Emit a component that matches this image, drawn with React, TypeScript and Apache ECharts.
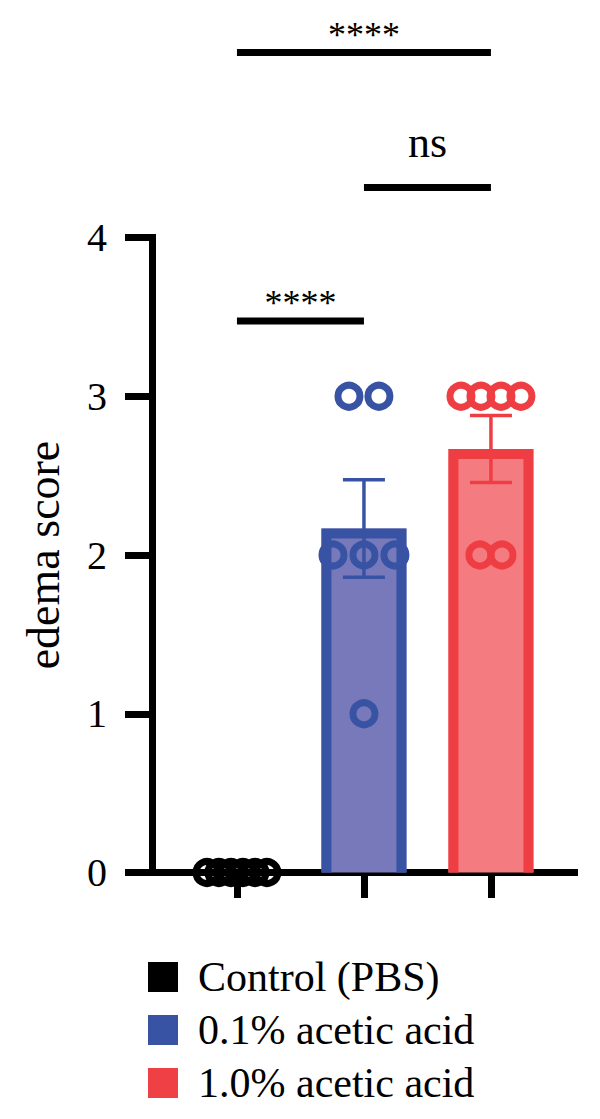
import React, { useEffect, useRef } from "react";
import * as echarts from "echarts";

const categories = ["Control (PBS)", "0.1% acetic acid", "1.0% acetic acid"];
const borderColors = ["#000000", "#3953A4", "#EE3E44"];
const fillColors = ["#000000", "#7879BA", "#F47C80"];
const legendColors = ["#000000", "#3953A4", "#EF4046"];

const means = [0, 2.167, 2.667];
const sems = [0, 0.307, 0.211];

const controlScores = [0, 0, 0, 0, 0, 0];
const controlJitter = [-0.236, -0.142, -0.047, 0.047, 0.142, 0.236];
const lowScores = [3, 3, 2, 2, 2, 1];
const lowJitter = [-0.118, 0.118, -0.244, 0, 0.244, 0];
const highScores = [3, 3, 3, 3, 2, 2];
const highJitter = [-0.236, -0.079, 0.079, 0.236, -0.087, 0.087];

const yTicks = [0, 1, 2, 3, 4];

const sigFrom = [0, 1, 0];
const sigTo = [1, 2, 2];
const sigLevel = [3.474, 4.315, 5.165];
const sigLabel = ["****", "ns", "****"];

const FONT = "'Liberation Serif', 'Times New Roman', serif";

export default function App() {
  const ref = useRef<HTMLDivElement>(null);

  useEffect(() => {
    document.body.style.margin = "0";
    const chart = echarts.init(ref.current!, null, { renderer: "svg" });

    const scoreSets = [controlScores, lowScores, highScores];
    const jitterSets = [controlJitter, lowJitter, highJitter];

    const barSeries = categories.map((name, i) => ({
      type: "custom",
      name,
      z: 2,
      clip: false,
      itemStyle: { color: legendColors[i] },
      data: [[i, means[i], sems[i]]],
      renderItem: (params: any, api: any) => {
        const x = api.value(0);
        const m = api.value(1);
        const s = api.value(2);
        const top = api.coord([x, m]);
        const base = api.coord([x, 0]);
        const hi = api.coord([x, m + s]);
        const lo = api.coord([x, m - s]);
        const cx = top[0];
        const half = 42.5;
        const bw = 10;
        const children: any[] = [];
        if (base[1] - top[1] > 0.5) {
          children.push({
            type: "rect",
            shape: { x: cx - half, y: top[1], width: half * 2, height: base[1] - top[1] },
            style: { fill: fillColors[i] },
          });
          children.push({
            type: "polyline",
            shape: {
              points: [
                [cx - half + bw / 2, base[1]],
                [cx - half + bw / 2, top[1] + bw / 2],
                [cx + half - bw / 2, top[1] + bw / 2],
                [cx + half - bw / 2, base[1]],
              ],
            },
            style: { stroke: borderColors[i], lineWidth: bw, fill: "none", lineJoin: "miter" },
          });
        }
        if (s > 0) {
          const st = { stroke: borderColors[i], lineWidth: 3.5 };
          children.push({ type: "line", shape: { x1: cx, y1: hi[1], x2: cx, y2: lo[1] }, style: st });
          children.push({ type: "line", shape: { x1: cx - 21, y1: hi[1], x2: cx + 21, y2: hi[1] }, style: st });
          children.push({ type: "line", shape: { x1: cx - 21, y1: lo[1], x2: cx + 21, y2: lo[1] }, style: st });
        }
        return { type: "group", children };
      },
    }));

    const scatterSeries = categories.map((name, i) => ({
      type: "scatter",
      name,
      z: 3,
      symbol: "circle",
      symbolSize: 22,
      itemStyle: { color: "rgba(0,0,0,0)", borderColor: borderColors[i], borderWidth: 7, opacity: 1 },
      data: scoreSets[i].map((v, k) => [i + jitterSets[i][k], v]),
    }));

    const sigSeries = {
      type: "custom",
      name: "sig",
      z: 4,
      clip: false,
      data: sigFrom.map((f, k) => [f, sigTo[k], sigLevel[k], k]),
      renderItem: (params: any, api: any) => {
        const a = api.coord([api.value(0), api.value(2)]);
        const b = api.coord([api.value(1), api.value(2)]);
        const k = api.value(3);
        const label = sigLabel[k];
        const isNs = label === "ns";
        return {
          type: "group",
          children: [
            {
              type: "line",
              shape: { x1: a[0], y1: a[1], x2: b[0], y2: b[1] },
              style: { stroke: "#000", lineWidth: 7 },
            },
            {
              type: "text",
              style: {
                text: label,
                x: (a[0] + b[0]) / 2,
                y: a[1] - (isNs ? 45 : 18),
                align: "center",
                verticalAlign: "middle",
                fontSize: isNs ? 44 : 36,
                fontFamily: FONT,
                fill: "#000",
              },
            },
          ],
        };
      },
    };

    chart.setOption({
      animation: false,
      backgroundColor: "#ffffff",
      grid: { left: 152, right: 25.5, top: 237.5, bottom: 246.5 },
      legend: {
        orient: "vertical",
        left: 148,
        top: 956,
        padding: 0,
        itemWidth: 30,
        itemHeight: 30,
        itemGap: 11,
        selectedMode: false,
        textStyle: { fontSize: 42, fontFamily: FONT, color: "#000", padding: [0, 0, 0, 15] },
        data: categories.map((name, i) => ({
          name,
          icon: "rect",
          itemStyle: { color: legendColors[i], borderWidth: 0 },
        })),
      },
      xAxis: {
        type: "value",
        min: -0.669,
        max: 2.658,
        axisLine: { show: true, onZero: false, lineStyle: { color: "#000", width: 7, cap: "square" } },
        axisTick: { show: true, customValues: [0, 1, 2], length: 25.5, lineStyle: { color: "#000", width: 7 } },
        axisLabel: { show: false },
        splitLine: { show: false },
      },
      yAxis: {
        type: "value",
        min: yTicks[0],
        max: yTicks[yTicks.length - 1],
        interval: 1,
        name: "edema score",
        nameLocation: "middle",
        nameGap: 86,
        nameTextStyle: { fontSize: 46, fontFamily: FONT, color: "#000" },
        axisLine: { show: true, onZero: false, lineStyle: { color: "#000", width: 7, cap: "square" } },
        axisTick: { show: true, length: 27, lineStyle: { color: "#000", width: 7 } },
        axisLabel: { margin: 45, fontSize: 40, fontFamily: FONT, color: "#000" },
        splitLine: { show: false },
      },
      series: [...barSeries, ...scatterSeries, sigSeries],
    });

    return () => chart.dispose();
  }, []);

  return <div ref={ref} style={{ width: 600, height: 1119 }} />;
}
